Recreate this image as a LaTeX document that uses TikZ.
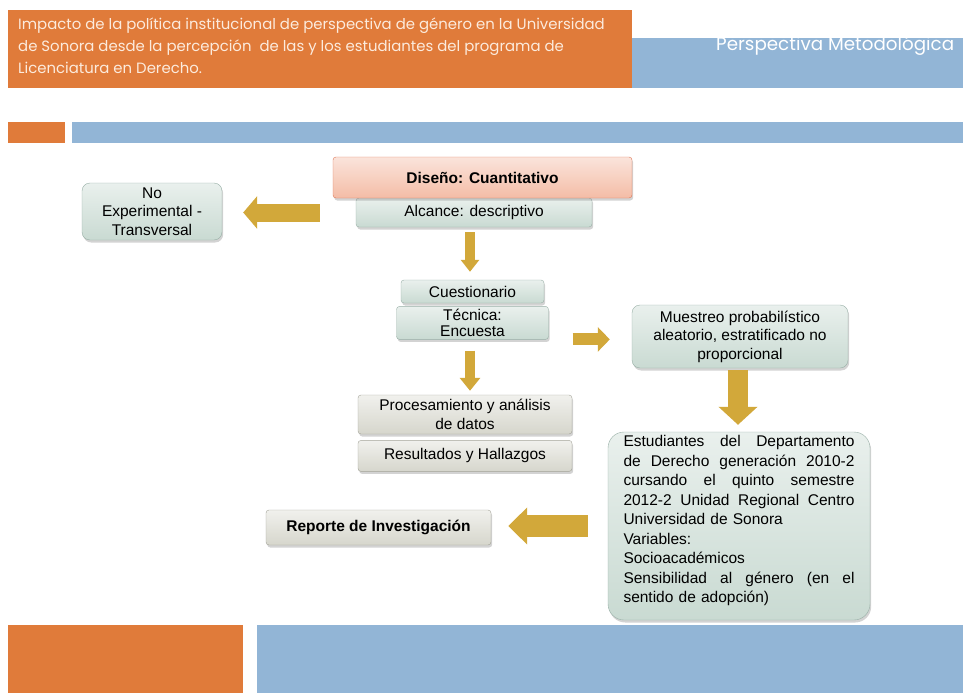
\documentclass[tikz,border=0pt]{standalone}
\usepackage{fontspec}
\setmainfont{Liberation Sans}
\newfontfamily\headfont{Poppins}
\usetikzlibrary{arrows.meta,positioning,shadows}
\definecolor{hdorange}{HTML}{E07B3A}
\definecolor{band}{HTML}{92B5D6}
\definecolor{salmon}{HTML}{F4BCA6}
\definecolor{redline}{HTML}{DE7858}
\definecolor{sage}{HTML}{C9DAD2}
\definecolor{sageline}{HTML}{98AFA6}
\definecolor{stone}{HTML}{D6D6CC}
\definecolor{stoneline}{HTML}{A3A398}
\definecolor{gold}{HTML}{D2A83A}
\definecolor{headtext}{HTML}{FCEBDD}
\newcommand\jline[1]{\leavevmode\hbox to 231pt{#1}}

\begin{document}
\begin{tikzpicture}[x=1pt,y=-1pt,font=\fontsize{15.5}{18.5}\selectfont,
  sagebox/.style={draw=sageline,top color=sage!40!white,bottom color=sage,rounded corners=3pt,align=center,inner sep=2pt,
    drop shadow={shadow xshift=1.2pt,shadow yshift=-2.5pt,opacity=.35}},
  stonebox/.style={sagebox,draw=stoneline,top color=stone!35!white,bottom color=stone},
  goldarrow/.style n args={3}{draw=gold,line width=#1,-{Triangle[width=#2,length=#3]}}]
\useasboundingbox (0,0) rectangle (963,693);
% bands
\fill[hdorange] (8,10) rectangle (632,88);
\fill[band] (632,38) rectangle (963,88);
\fill[hdorange] (8,122) rectangle (65,143);
\fill[band] (72,122) rectangle (963,143);
\fill[hdorange] (8,625) rectangle (243,693);
\fill[band] (257,625) rectangle (963,693);
\node[anchor=north west,inner sep=0pt,align=left,text=headtext,font=\headfont\fontsize{14.9}{22}\selectfont] (titulo) at (18,18)
  {Impacto de la política institucional de perspectiva de género en la Universidad\\
   de Sonora desde la percepción \ de las y los estudiantes del programa de\\
   Licenciatura en Derecho.};
\node[anchor=west,inner sep=0pt,text=white,font=\headfont\fontsize{18.3}{20}\selectfont] (perspectiva) at (716,46) {Perspectiva Metodológica};
% boxes
\node[sagebox,minimum width=236pt,minimum height=29pt] (alcance) at (474,212.5) {Alcance: descriptivo};
\node[sagebox,draw=redline,top color=salmon!40!white,bottom color=salmon,minimum width=299pt,minimum height=41pt,font=\bfseries\fontsize{15.5}{18}\selectfont] (diseno) at (482.5,177.5) {Diseño: Cuantitativo};
\node[sagebox,rounded corners=8pt,minimum width=140pt,minimum height=57pt] (noexp) at (152,211.5) {No\\Experimental -\\Transversal};
\node[sagebox,minimum width=143pt,minimum height=23pt] (cuestionario) at (472.5,291.5) {Cuestionario};
\node[sagebox,minimum width=152pt,minimum height=33pt,below=3pt of cuestionario,font=\fontsize{15.5}{16.5}\selectfont] (tecnica) {Técnica:\\Encuesta};
\node[sagebox,rounded corners=8pt,minimum width=216pt,minimum height=63pt] (muestreo) at (740,336.5) {Muestreo probabilístico\\aleatorio, estratificado no\\proporcional};
\node[stonebox,minimum width=214pt,minimum height=39pt] (procesamiento) at (465,414.5) {Procesamiento y análisis\\de datos};
\node[stonebox,minimum width=214pt,minimum height=31pt,below=6pt of procesamiento] (resultados) {Resultados y Hallazgos};
\node[sagebox,rounded corners=16pt,minimum width=262pt,minimum height=188pt,text width=231pt,align=left,font=\fontsize{15.5}{19.5}\selectfont] (estudiantes) at (739,526)
  {\jline{Estudiantes\hfill del\hfill Departamento}\\
   \jline{de\hfill Derecho\hfill generación\hfill 2010-2}\\
   \jline{cursando\hfill el\hfill quinto\hfill semestre}\\
   \jline{2012-2\hfill Unidad\hfill Regional\hfill Centro}\\
   Universidad de Sonora\\
   Variables:\\
   Socioacadémicos\\
   \jline{Sensibilidad\hfill al\hfill género\hfill (en\hfill el}\\
   sentido de adopción)\rule[-14pt]{0pt}{1pt}};
\node[stonebox,minimum width=225pt,minimum height=35pt,font=\bfseries\fontsize{15.5}{18}\selectfont] (reporte) at (378.5,527.5) {Reporte de Investigación};
% arrows
\draw[goldarrow={18pt}{32pt}{14pt},shorten <=36pt,shorten >=21pt] (alcance.west) -- (noexp.east |- alcance.west);
\draw[goldarrow={10pt}{18pt}{12pt},shorten <=5pt,shorten >=8pt] ([xshift=-4pt]alcance.south) -- ([xshift=-2.5pt]cuestionario.north);
\draw[goldarrow={12pt}{24pt}{12pt},shorten <=24pt,shorten >=22pt] ([yshift=-16.5pt]tecnica.east) -- ([yshift=-16.5pt]tecnica.east -| muestreo.west);
\draw[goldarrow={10pt}{20pt}{13pt},shorten <=11pt,shorten >=4pt] ([xshift=-2.5pt]tecnica.south) -- ([xshift=-2.5pt]tecnica.south |- procesamiento.north);
\draw[goldarrow={20pt}{38pt}{18pt},shorten <=2pt,shorten >=7pt] ([xshift=-2pt]muestreo.south) -- ([xshift=-2pt]muestreo.south |- estudiantes.north);
\draw[goldarrow={22pt}{36pt}{19pt},shorten <=20pt,shorten >=17pt] (estudiantes.west) -- (reporte.east |- estudiantes.west);
\end{tikzpicture}
\end{document}
